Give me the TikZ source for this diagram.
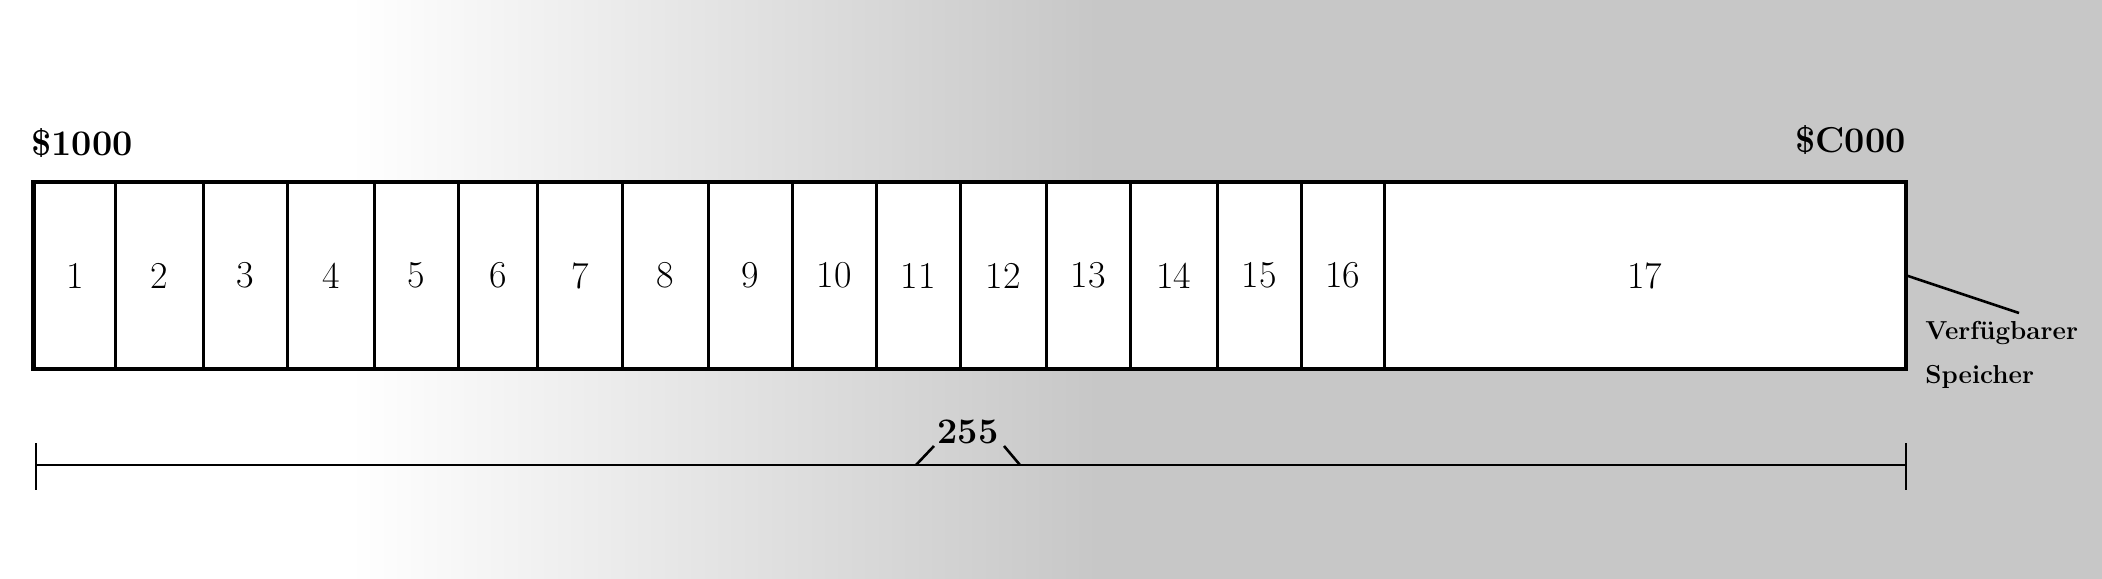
\documentclass[tikz,border=0pt]{standalone}
\usepackage{fontspec}
\newcommand\cellfont{\fontsize{19}{22}\selectfont}
\newcommand\addrfont{\fontsize{18}{21}\selectfont\bfseries}
\newcommand\labfont{\fontsize{13}{15}\selectfont\bfseries}
\begin{document}
\begin{tikzpicture}[x=0.5pt,y=-0.5pt,
  cell/.style={draw, line width=1.3pt, fill=white, minimum height=92.5pt,
    inner sep=0pt, anchor=west, font=\cellfont},
  addr/.style={font=\addrfont, inner sep=0pt},
  lab/.style={font=\labfont, inner sep=0pt, anchor=west},
  ln/.style={line width=1.3pt}]
\useasboundingbox (0,0) rectangle (2102,578);
% halftone-like background
\shade[left color=white, right color=black!22] (350,-5) rectangle (1100,583);
\fill[black!22] (1098,-5) rectangle (2107,583);
% cells
\foreach \l/\r [count=\i] in {33/114,114/202,202/286,286/373,373/457,457/536,536/621,621/707,707/791,791/875,875/959,959/1045,1045/1129,1129/1216,1216/1300,1300/1383,1383/1904}{
  \pgfmathsetmacro\w{(\r-\l)*0.5}
  \node[cell, minimum width=\w pt] (c\i) at (\l,275.5) {\i};
}
\draw[line width=1.8pt] (c1.north west) rectangle (c17.south east);
% addresses
\node[addr, anchor=west] (a1) at (31,143) {\$1000};
\node[addr, anchor=east] (a2) at (1906,140) {\$C000};
% leader and label
\coordinate (lead) at (2019,313);
\draw[ln] (c17.east) -- (lead);
\node[lab] (v) at (1925,333) {Verfügbarer};
\node[lab] (s) at (1925,377) {Speicher};
% dimension line
\coordinate (dl) at (36,465);
\coordinate (dr) at (1906,465);
\draw[ln] (dl) -- (dr);
\draw[ln] ([yshift=11pt]dl) -- ([yshift=-12.5pt]dl);
\draw[ln] ([yshift=11pt]dr) -- ([yshift=-12.5pt]dr);
\node[addr] (n255) at (968,432) {255};
\draw[ln] (916,465) -- (934,446);
\draw[ln] (1004,446) -- (1020,465);
\end{tikzpicture}
\end{document}
